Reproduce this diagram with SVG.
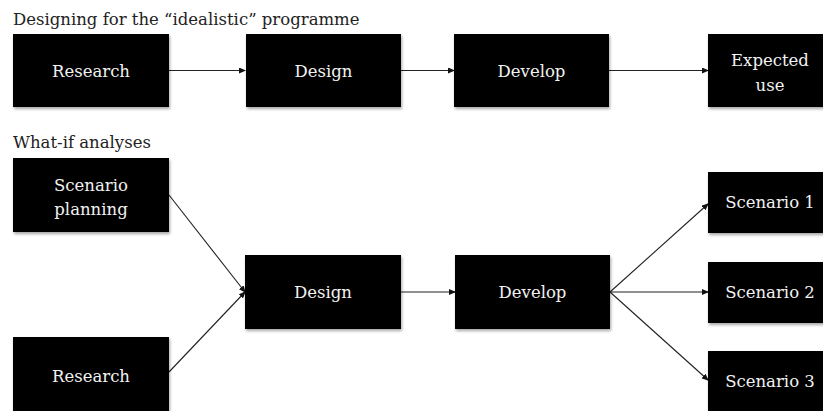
<svg xmlns="http://www.w3.org/2000/svg" width="823" height="411" viewBox="0 0 823 411">
<style>
.box{fill:#000;filter:url(#sh)}
.lbl{font-family:"DejaVu Serif","Liberation Serif",serif;font-size:16.5px;fill:#f2f2f2;text-anchor:middle}
.ttl{font-family:"DejaVu Serif","Liberation Serif",serif;font-size:16.5px;fill:#222}
.con{stroke:#222;stroke-width:1.1;fill:none;marker-end:url(#ah)}
</style>
<defs>
<filter id="sh" x="-10%" y="-10%" width="130%" height="140%">
<feDropShadow dx="1" dy="2" stdDeviation="1.5" flood-color="#000" flood-opacity="0.35"/>
</filter>
<marker id="ah" markerWidth="7" markerHeight="6" refX="6" refY="3" orient="auto" markerUnits="userSpaceOnUse">
<path d="M0,0 L7,3 L0,6 Z" fill="#111"/>
</marker>
</defs>
<rect width="823" height="411" fill="#fff"/>
<text class="ttl" x="13" y="25">Designing for the “idealistic” programme</text>
<text class="ttl" x="13" y="148">What-if analyses</text>
<g id="connectors">
<line class="con" x1="169" y1="70.5" x2="245" y2="70.5"/>
<line class="con" x1="401" y1="70.5" x2="454" y2="70.5"/>
<line class="con" x1="609" y1="70.5" x2="708" y2="70.5"/>
<line class="con" x1="169" y1="195" x2="245" y2="292"/>
<line class="con" x1="169" y1="372" x2="245" y2="292"/>
<line class="con" x1="401" y1="292" x2="455" y2="292"/>
<line class="con" x1="610" y1="292" x2="708" y2="204"/>
<line class="con" x1="610" y1="292" x2="708" y2="292"/>
<line class="con" x1="610" y1="292" x2="708" y2="380"/>
</g>
<g id="research1"><rect class="box" x="13" y="34" width="156" height="73"/><text class="lbl" x="91" y="77">Research</text></g>
<g id="design1"><rect class="box" x="246" y="34" width="155" height="73"/><text class="lbl" x="323.5" y="77">Design</text></g>
<g id="develop1"><rect class="box" x="454" y="34" width="155" height="73"/><text class="lbl" x="531.5" y="77">Develop</text></g>
<g id="expected"><rect class="box" x="708" y="34" width="124" height="73"/><text class="lbl" x="770" y="66">Expected</text><text class="lbl" x="770" y="91">use</text></g>
<g id="scenplan"><rect class="box" x="13" y="158" width="156" height="74"/><text class="lbl" x="91" y="191">Scenario</text><text class="lbl" x="91" y="215">planning</text></g>
<g id="design2"><rect class="box" x="245" y="255" width="156" height="74"/><text class="lbl" x="323" y="298">Design</text></g>
<g id="develop2"><rect class="box" x="455" y="255" width="155" height="74"/><text class="lbl" x="532.5" y="298">Develop</text></g>
<g id="research2"><rect class="box" x="13" y="337" width="156" height="76"/><text class="lbl" x="91" y="382">Research</text></g>
<g id="scen1"><rect class="box" x="708" y="172" width="124" height="61"/><text class="lbl" x="770" y="208">Scenario 1</text></g>
<g id="scen2"><rect class="box" x="708" y="262" width="124" height="61"/><text class="lbl" x="770" y="298">Scenario 2</text></g>
<g id="scen3"><rect class="box" x="708" y="351" width="124" height="62"/><text class="lbl" x="770" y="387">Scenario 3</text></g>
</svg>
